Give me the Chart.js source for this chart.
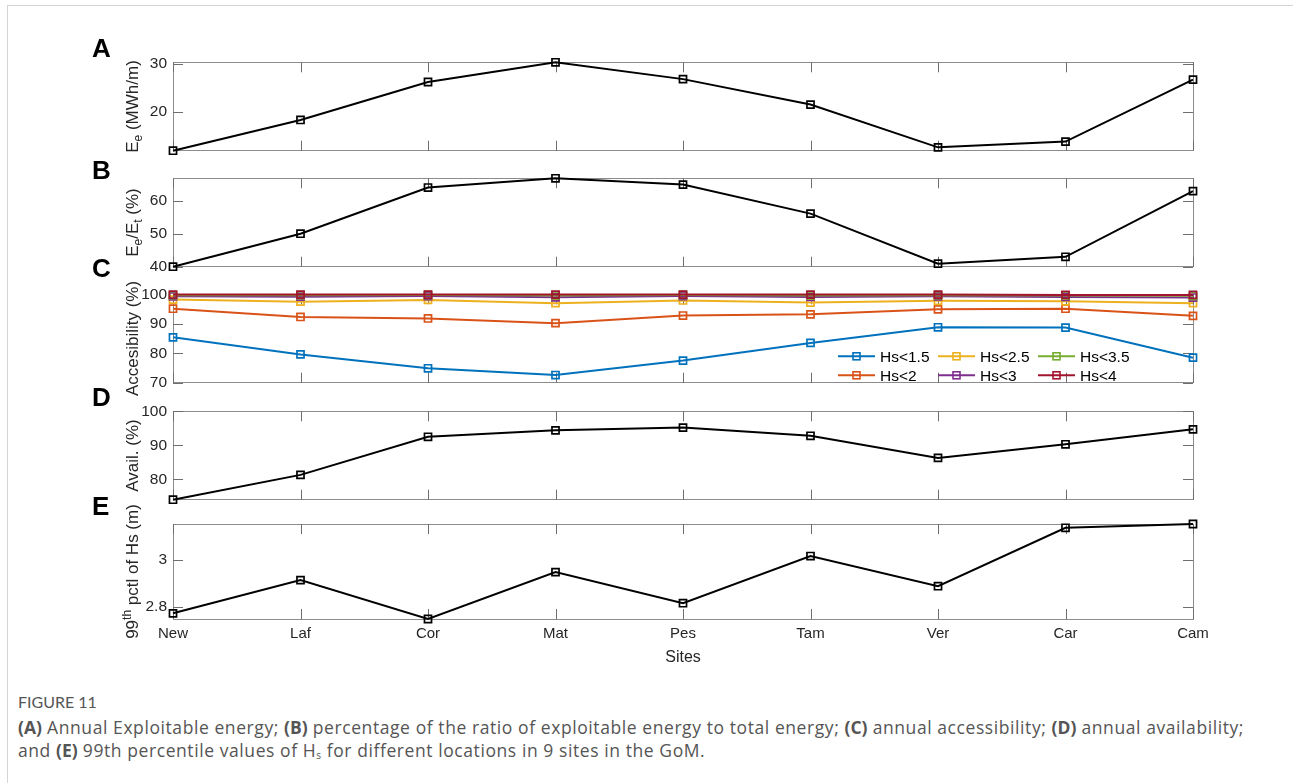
<!DOCTYPE html>
<html>
<head>
<meta charset="utf-8">
<script src="https://cdn.jsdelivr.net/npm/chart.js@4.4.0/dist/chart.umd.min.js"></script>
<style>
  body { margin: 0; background: #fff; width: 1293px; height: 783px; overflow: hidden; position: relative; }
  .frame { position: absolute; left: 7px; top: 5px; width: 1300px; height: 800px; border-left: 1px solid #d4d4d4; border-top: 1px solid #d4d4d4; }
  canvas { position: absolute; left: 0; }
  .tag { position: absolute; left: 92px; font: bold 26px "Liberation Sans", Arial, sans-serif; line-height: 1; color: #000; }
  .cap { position: absolute; left: 18px; font-family: "Open Sans", Lato, sans-serif; font-size: 17.5px; letter-spacing: 0.58px; color: #555; white-space: nowrap; line-height: 20px; }
  .cap.head { font-family: Lato, sans-serif; font-size: 16px; letter-spacing: 0; }
  .cap b { font-weight: 700; letter-spacing: 0; }
  .cap sub { font-size: 10px; vertical-align: -2px; line-height: 0; }
</style>
</head>
<body>
<div class="frame"></div>

<canvas id="panelA"></canvas>
<canvas id="panelB"></canvas>
<canvas id="panelC"></canvas>
<canvas id="panelD"></canvas>
<canvas id="panelE"></canvas>

<div class="tag" style="top:35px">A</div>
<div class="tag" style="top:157px">B</div>
<div class="tag" style="top:255px">C</div>
<div class="tag" style="top:384px">D</div>
<div class="tag" style="top:493px">E</div>

<div class="cap head" style="top:692px">FIGURE 11</div>
<div class="cap" style="top:717px"><b>(A)</b> Annual Exploitable energy; <b>(B)</b> percentage of the ratio of exploitable energy to total energy; <b>(C)</b> annual accessibility; <b>(D)</b> annual availability;</div>
<div class="cap" style="top:740px">and <b>(E)</b> 99th percentile values of H<sub>s</sub> for different locations in 9 sites in the GoM.</div>

<script>
// sites along the x axis
const sites = ['New', 'Laf', 'Cor', 'Mat', 'Pes', 'Tam', 'Ver', 'Car', 'Cam'];

// (A) annual exploitable energy, MWh/m
const exploitableEnergy = [11.9, 18.3, 26.2, 30.3, 26.8, 21.5, 12.6, 13.8, 26.7];
// (B) exploitable / total energy, %
const energyRatio = [40.0, 50.0, 64.0, 66.8, 64.9, 56.1, 40.9, 43.0, 62.9];

// (C) accessibility, % for each Hs threshold
const accessLabels = ['Hs<1.5', 'Hs<2', 'Hs<2.5', 'Hs<3', 'Hs<3.5', 'Hs<4'];
const accessHs15 = [85.4, 79.6, 74.9, 72.6, 77.5, 83.5, 88.8, 88.7, 78.5];
const accessHs2 = [95.1, 92.3, 91.8, 90.2, 92.8, 93.2, 94.9, 95.1, 92.7];
const accessHs25 = [98.2, 97.5, 98.1, 97.0, 97.9, 97.2, 97.8, 97.6, 97.0];
const accessHs3 = [99.3, 99.2, 99.4, 99.0, 99.4, 99.1, 99.3, 99.1, 98.9];
const accessHs35 = [99.7, 99.7, 99.8, 99.6, 99.8, 99.6, 99.7, 99.6, 99.5];
const accessHs4 = [99.9, 99.9, 99.9, 99.9, 99.9, 99.9, 99.9, 99.8, 99.8];

// (D) availability, %
const availability = [74.0, 81.3, 92.5, 94.4, 95.2, 92.8, 86.3, 90.3, 94.7];
// (E) 99th percentile of Hs, m
const hs99 = [2.774, 2.915, 2.750, 2.949, 2.817, 3.017, 2.889, 3.137, 3.153];

const accessColors = ['#0072BD', '#D95319', '#EDB120', '#7E2F8E', '#77AC30', '#A2142F'];
const font = '"Liberation Sans", Arial, Helvetica, sans-serif';
const textColor = '#262626';
const PLOT_LEFT = 173, PLOT_RIGHT = 1193, PLOT_H = 95, PAD = 12;

// rotated axis title with sub/superscripts
function drawRich(ctx, parts, cx, cy) {
    ctx.save();
    ctx.translate(cx, cy);
    ctx.rotate(-Math.PI / 2);
    ctx.textAlign = 'left';
    ctx.textBaseline = 'alphabetic';
    ctx.fillStyle = textColor;
    const big = '17px ' + font, small = '12px ' + font;
    let total = 0;
    parts.forEach(p => { ctx.font = p[1] ? small : big; total += ctx.measureText(p[0]).width; });
    let x = -total / 2;
    parts.forEach(p => {
        ctx.font = p[1] ? small : big;
        const dy = p[1] === 'sub' ? 4 : (p[1] === 'sup' ? -7.5 : 0);
        ctx.fillText(p[0], x, 6 + dy);
        x += ctx.measureText(p[0]).width;
    });
    ctx.restore();
}

// MATLAB-like box with inward ticks, y title and optional legend
const framePlugin = {
    id: 'frame',
    beforeDatasetsDraw(chart) {
        const { ctx, chartArea: a, scales: { x, y } } = chart;
        ctx.save();
        ctx.strokeStyle = '#8c8c8c';
        ctx.lineWidth = 1;
        ctx.strokeRect(Math.round(a.left) + 0.5, Math.round(a.top) + 0.5, Math.round(a.width), Math.round(a.height));
        ctx.strokeStyle = '#6e6e6e';
        ctx.beginPath();
        x.ticks.forEach((t, i) => {
            const px = Math.round(x.getPixelForTick(i)) + 0.5;
            ctx.moveTo(px, a.top); ctx.lineTo(px, a.top + 10);
            ctx.moveTo(px, a.bottom); ctx.lineTo(px, a.bottom - 10);
        });
        y.ticks.forEach((t, i) => {
            const py = Math.round(y.getPixelForTick(i)) + 0.5;
            ctx.moveTo(a.left, py); ctx.lineTo(a.left + 10, py);
            ctx.moveTo(a.right, py); ctx.lineTo(a.right - 10, py);
        });
        ctx.stroke();
        ctx.restore();
    },
    afterDraw(chart, args, opts) {
        const { ctx, chartArea: a } = chart;
        drawRich(ctx, opts.title, 132, (a.top + a.bottom) / 2);
        if (opts.legend) {
            ctx.save();
            ctx.font = '15.5px ' + font;
            ctx.textAlign = 'left';
            ctx.textBaseline = 'middle';
            chart.data.datasets.forEach((d, i) => {
                const col = Math.floor(i / 2), row = i % 2;
                const x0 = a.right - 355 + col * 100, y0 = a.top + 62 + row * 19;
                ctx.strokeStyle = d.borderColor;
                ctx.lineWidth = 2;
                ctx.beginPath(); ctx.moveTo(x0, y0); ctx.lineTo(x0 + 37, y0); ctx.stroke();
                ctx.lineWidth = 1.6;
                ctx.strokeRect(x0 + 15, y0 - 3.5, 7, 7);
                ctx.fillStyle = '#000';
                ctx.fillText(d.label, x0 + 42, y0 + 1);
            });
            ctx.restore();
        }
    }
};

function lineSet(data, color, label, order) {
    return {
        label, data, order,
        borderColor: color, borderWidth: 2,
        pointStyle: 'rect', pointRadius: 5, pointBorderWidth: 1.7,
        pointBorderColor: color, pointBackgroundColor: 'rgba(0,0,0,0)',
        tension: 0, clip: 10
    };
}

function makePanel(id, top, datasets, yMin, yMax, step, frame, withSites) {
    const canvas = document.getElementById(id);
    const padTop = withSites ? 34 : PAD;
    canvas.width = 1293;
    canvas.height = PLOT_H + padTop + (withSites ? 48 : PAD);
    canvas.style.top = (top - padTop) + 'px';
    return new Chart(canvas, {
        type: 'line',
        data: { labels: sites, datasets },
        options: {
            responsive: false,
            animation: false,
            devicePixelRatio: 1,
            layout: { padding: { left: 0, right: 1293 - PLOT_RIGHT, top: padTop, bottom: withSites ? 0 : PAD } },
            plugins: { legend: { display: false }, tooltip: { enabled: false }, frame },
            scales: {
                x: {
                    grid: { display: false, drawTicks: false },
                    border: { display: false },
                    ticks: { display: withSites, padding: 6, color: textColor, font: { family: font, size: 15 }, maxRotation: 0, autoSkip: false },
                    title: { display: withSites, text: 'Sites', color: textColor, font: { family: font, size: 16 }, padding: 0 },
                    afterFit: s => { s.height = withSites ? 48 : 0; }
                },
                y: {
                    min: yMin, max: yMax,
                    grid: { display: false, drawTicks: false },
                    border: { display: false },
                    ticks: {
                        stepSize: step, includeBounds: false, padding: 6,
                        color: textColor, font: { family: font, size: 15.5 },
                        callback: v => String(+v.toFixed(2))
                    },
                    afterFit: s => { s.width = PLOT_LEFT; }
                }
            }
        },
        plugins: [framePlugin]
    });
}

makePanel('panelA', 59, [lineSet(exploitableEnergy, '#000', 'Ee', 1)],
    Math.min(...exploitableEnergy), Math.max(...exploitableEnergy), 10,
    { title: [['E'], ['e', 'sub'], [' (MWh/m)']] }, false);

makePanel('panelB', 175, [lineSet(energyRatio, '#000', 'Ee/Et', 1)],
    Math.min(...energyRatio), Math.max(...energyRatio), 10,
    { title: [['E'], ['e', 'sub'], ['/E'], ['t', 'sub'], [' (%)']] }, false);

const accessSeries = [accessHs15, accessHs2, accessHs25, accessHs3, accessHs35, accessHs4];
makePanel('panelC', 291, accessSeries.map((s, i) => lineSet(s, accessColors[i], accessLabels[i], accessSeries.length - i)),
    70, 100, 10,
    { title: [['Accesibility (%)']], legend: true }, false);

makePanel('panelD', 408, [lineSet(availability, '#000', 'Avail', 1)],
    Math.min(...availability), 100, 10,
    { title: [['Avail. (%)']] }, false);

makePanel('panelE', 524, [lineSet(hs99, '#000', 'Hs99', 1)],
    Math.min(...hs99), Math.max(...hs99), 0.2,
    { title: [['99'], ['th', 'sup'], [' pctl of Hs (m)']] }, true);
</script>
</body>
</html>
